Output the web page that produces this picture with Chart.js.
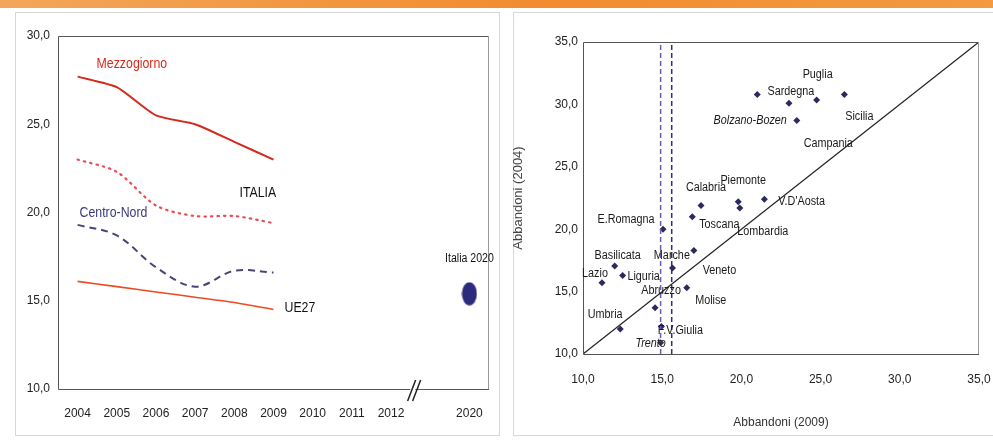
<!DOCTYPE html>
<html>
<head>
<meta charset="utf-8">
<script src="https://cdn.jsdelivr.net/npm/chart.js@4.4.1/dist/chart.umd.min.js"></script>
<style>
  body { margin:0; width:993px; height:441px; background:#fff; overflow:hidden; position:relative; }
  .bar { position:absolute; left:0; top:0; width:993px; height:8px; background:linear-gradient(to right, #f3a65a, #f28b2e 55%, #f39a42); }
  .panel { position:absolute; top:12px; height:422px; border:1px solid #d8d8d8; }
  .box { position:absolute; top:10px; height:431px; }
</style>
</head>
<body>
<div class="bar"></div>
<div class="panel" style="left:15px;width:483px"></div>
<div class="panel" style="left:513px;width:490px"></div>
<div class="box" style="left:0;width:500px"><canvas id="chart-trend"></canvas></div>
<div class="box" style="left:500px;width:493px"><canvas id="chart-regions"></canvas></div>

<script>
// left chart: early school leavers by area
const years = ['2004', '2005', '2006', '2007', '2008', '2009', '2010', '2011', '2012', '', '2020'];
const mezzogiorno = [27.7, 27.1, 25.5, 25.0, 24.0, 23.0];
const italia = [23.0, 22.3, 20.4, 19.8, 19.8, 19.4];
const centroNord = [19.3, 18.7, 16.9, 15.8, 16.7, 16.6];
const ue27 = [16.1, 15.8, 15.5, 15.2, 14.9, 14.5];
const italia2020 = [null, null, null, null, null, null, null, null, null, null, 15.4];

// right chart: regions, 2009 vs 2004
const regions = ['Puglia', 'Sardegna', 'Sicilia', 'Campania', 'Bolzano-Bozen', 'Calabria', 'Piemonte',
  'Lombardia', "V.D'Aosta", 'E.Romagna', 'Toscana', 'Marche', 'Veneto', 'Basilicata', 'Liguria',
  'Lazio', 'Abruzzo', 'Molise', 'Umbria', 'F.V.Giulia', 'Trento'];
const abbandoni2009 = [24.75, 23.0, 26.5, 21.0, 23.5, 17.45, 19.8, 19.9, 21.45, 15.05, 16.9,
  17.0, 15.65, 12.0, 12.5, 11.2, 14.55, 16.55, 12.35, 14.95, 14.9];
const abbandoni2004 = [30.35, 30.1, 30.8, 30.8, 28.7, 21.9, 22.2, 21.7, 22.4, 20.0, 21.0,
  18.3, 16.9, 17.05, 16.3, 15.7, 13.7, 15.3, 12.0, 12.2, 10.9];
const refLines = [14.9, 15.6];

const sans = "'Liberation Sans', Arial, sans-serif";
const fmt = v => v.toFixed(1).replace('.', ',');

// text next to the lines: [text, dataset, point, dx, dy, align, color, size]
const lineLabels = [
  ['Mezzogiorno', 0, 0, 19, -12, 'left', '#d42a1e', 14],
  ['ITALIA', 1, 5, -34, -30, 'left', '#111', 14],
  ['Centro-Nord', 2, 0, 2, -12, 'left', '#3a3a78', 14],
  ['UE27', 3, 5, 11, -1, 'left', '#111', 14],
  ['Italia 2020', 4, 10, 0, -35, 'center', '#111', 12]
];

// label offsets for each region point: dx, dy, align, italic
const regionLabelPos = [
  [1, -25, 'center'], [2, -11, 'center'], [15, 22, 'center'], [71, 49, 'center'], [-10, 0, 'right', true],
  [5, -18, 'center'], [5, -21, 'center'], [23, 24, 'center'], [14, 2, 'left'], [-37, -10, 'center'],
  [27, 8, 'center'], [-22, 5, 'center'], [47, 3, 'center'], [3, -10, 'center'], [21, 1, 'center'],
  [-7, -9, 'center'], [6, -17, 'center'], [24, 13, 'center'], [-15, -14, 'center'], [19, 4, 'center'],
  [-10, 1, 'center', true]
];

// squeezed text, the original uses a narrow face
function narrowText(ctx, text, x, y, align, font, sx) {
  ctx.save();
  ctx.translate(x, y);
  ctx.scale(sx, 1);
  ctx.font = font;
  ctx.textAlign = align;
  ctx.textBaseline = 'middle';
  ctx.fillText(text, 0, 0);
  ctx.restore();
}

function frame(ctx, a) {
  ctx.save();
  ctx.lineWidth = 1;
  ctx.strokeStyle = '#555';
  ctx.beginPath();
  ctx.moveTo(a.right, a.top + 0.5); ctx.lineTo(a.left + 0.5, a.top + 0.5);
  ctx.lineTo(a.left + 0.5, a.bottom + 0.5); ctx.lineTo(a.right, a.bottom + 0.5);
  ctx.stroke();
  ctx.strokeStyle = '#999';
  ctx.beginPath();
  ctx.moveTo(a.right - 0.5, a.top); ctx.lineTo(a.right - 0.5, a.bottom);
  ctx.stroke();
  ctx.restore();
}

const trendDecor = {
  id: 'trendDecor',
  afterDraw(chart) {
    const ctx = chart.ctx, a = chart.chartArea, xs = chart.scales.x;
    frame(ctx, a);
    // axis break //
    const bx = (xs.getPixelForValue(8) + xs.getPixelForValue(9)) / 2 + 4;
    const by = a.bottom;
    ctx.save();
    ctx.fillStyle = '#fff';
    ctx.beginPath();
    ctx.moveTo(bx - 6, by + 3); ctx.lineTo(bx - 1, by + 3); ctx.lineTo(bx + 3, by - 3); ctx.lineTo(bx - 2, by - 3);
    ctx.fill();
    ctx.strokeStyle = '#222';
    ctx.lineWidth = 1.5;
    ctx.beginPath();
    ctx.moveTo(bx - 7, by + 12); ctx.lineTo(bx + 1, by - 9);
    ctx.moveTo(bx - 2, by + 12); ctx.lineTo(bx + 6, by - 9);
    ctx.stroke();
    ctx.restore();
    // series labels
    lineLabels.forEach(([text, ds, idx, dx, dy, align, color, size]) => {
      const p = chart.getDatasetMeta(ds).data[idx];
      ctx.fillStyle = color;
      narrowText(ctx, text, p.x + dx, p.y + dy, align, size + 'px ' + sans, 0.88);
    });
  }
};

const regionDecor = {
  id: 'regionDecor',
  afterDraw(chart) {
    const ctx = chart.ctx;
    frame(ctx, chart.chartArea);
    const pts = chart.getDatasetMeta(3).data;
    ctx.fillStyle = '#1a1a1a';
    regions.forEach((name, i) => {
      const [dx, dy, align, italic] = regionLabelPos[i];
      narrowText(ctx, name, pts[i].x + dx, pts[i].y + dy, align, (italic ? 'italic ' : '') + '12px ' + sans, 0.9);
    });
  }
};

const ellipse = document.createElement('canvas');
ellipse.width = 16; ellipse.height = 24;
const ec = ellipse.getContext('2d');
ec.fillStyle = '#2c2b7c';
ec.beginPath(); ec.ellipse(8, 12, 7.5, 11.5, 0, 0, Math.PI * 2); ec.fill();

const noPad = s => { s.paddingLeft = 0; s.paddingRight = 0; s.paddingTop = 0; s.paddingBottom = 0; };
const noGrid = { display: false, drawTicks: false };

new Chart(document.getElementById('chart-trend'), {
  type: 'line',
  data: {
    labels: years,
    datasets: [
      { data: mezzogiorno, borderColor: '#d42a1e', borderWidth: 2, tension: 0.2, pointRadius: 0 },
      { data: italia, borderColor: '#e84c58', borderWidth: 2.2, borderDash: [1.5, 5], borderCapStyle: 'round', tension: 0.3, pointRadius: 0 },
      { data: centroNord, borderColor: '#45457a', borderWidth: 2, borderDash: [7, 5], tension: 0.35, pointRadius: 0 },
      { data: ue27, borderColor: '#ee4a22', borderWidth: 1.6, tension: 0.2, pointRadius: 0 },
      { data: italia2020, showLine: false, pointStyle: ellipse, pointRadius: 10 }
    ]
  },
  options: {
    responsive: true,
    maintainAspectRatio: false,
    animation: false,
    layout: { padding: { left: 0, right: 10, top: 26, bottom: 0 } },
    plugins: { legend: { display: false }, tooltip: { enabled: false } },
    scales: {
      x: {
        offset: true,
        grid: noGrid,
        border: { display: false },
        ticks: { color: '#222', padding: 17, font: { family: sans, size: 12 }, maxRotation: 0, autoSkip: false },
        afterFit: s => { noPad(s); s.height = 52; }
      },
      y: {
        min: 10, max: 30,
        grid: noGrid,
        border: { display: false },
        ticks: { stepSize: 5, color: '#222', padding: 8, font: { family: sans, size: 12 }, callback: fmt },
        afterFit: s => { noPad(s); s.width = 58; }
      }
    }
  },
  plugins: [trendDecor]
});

new Chart(document.getElementById('chart-regions'), {
  type: 'scatter',
  data: {
    datasets: [
      { data: [{ x: 10, y: 10 }, { x: 35, y: 35 }], showLine: true, borderColor: '#222', borderWidth: 1.3, pointRadius: 0 },
      { data: [{ x: refLines[0], y: 10 }, { x: refLines[0], y: 35 }], showLine: true, borderColor: '#6a5fb0', borderWidth: 1.5, borderDash: [5, 3], pointRadius: 0 },
      { data: [{ x: refLines[1], y: 10 }, { x: refLines[1], y: 35 }], showLine: true, borderColor: '#2e2e70', borderWidth: 1.5, borderDash: [5, 3], pointRadius: 0 },
      {
        data: abbandoni2009.map((v, i) => ({ x: v, y: abbandoni2004[i] })),
        pointStyle: 'rectRot', pointRadius: 3.5, backgroundColor: '#2a2a5e', borderColor: '#2a2a5e', borderWidth: 0
      }
    ]
  },
  options: {
    responsive: true,
    maintainAspectRatio: false,
    animation: false,
    layout: { padding: { left: 0, right: 14, top: 32, bottom: 0 } },
    plugins: { legend: { display: false }, tooltip: { enabled: false } },
    scales: {
      x: {
        min: 10, max: 35,
        grid: noGrid,
        border: { display: false },
        ticks: { stepSize: 5, color: '#222', padding: 18, font: { family: sans, size: 12 }, callback: fmt },
        title: { display: true, text: 'Abbandoni (2009)', color: '#333', padding: { bottom: 11 }, font: { family: sans, size: 12 } },
        afterFit: s => { noPad(s); s.height = 87; }
      },
      y: {
        min: 10, max: 35,
        grid: noGrid,
        border: { display: false },
        ticks: { stepSize: 5, color: '#222', padding: 5, font: { family: sans, size: 12 }, callback: fmt },
        title: { display: true, text: 'Abbandoni (2004)', color: '#444', padding: { top: 11 }, font: { family: sans, size: 13 } },
        afterFit: s => { noPad(s); s.width = 83; }
      }
    }
  },
  plugins: [regionDecor]
});
</script>
</body>
</html>
